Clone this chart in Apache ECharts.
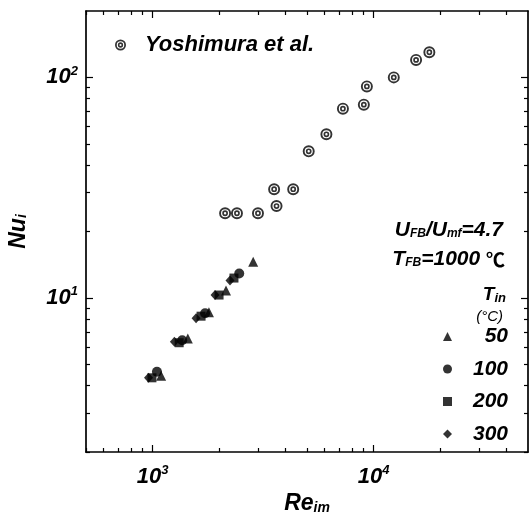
<!DOCTYPE html>
<html>
<head>
<meta charset="utf-8">
<script src="https://cdn.jsdelivr.net/npm/echarts@6/dist/echarts.min.js"></script>
<style>html,body{margin:0;padding:0;background:#fff}</style>
</head>
<body>
<div id="chart" style="width:531px;height:519px"></div>
<script>
  // Yoshimura et al. (double circles)
  const yoshiRe = [2130, 2410, 3000, 3550, 3640, 4330, 5090, 6120, 7270, 9040, 9330, 12350, 15580, 17890]
  const yoshiNu = [24.2, 24.2, 24.2, 31.1, 26.1, 31.1, 46.2, 55.2, 72.1, 75.2, 91.0, 100, 120, 130]
  // Tin = 50, 100, 200, 300 C
  const tin50Re = [1094, 1444, 1800, 2150, 2855]
  const tin50Nu = [4.43, 6.55, 8.6, 10.8, 14.6]
  const tin100Re = [1047, 1362, 1729, 2468]
  const tin100Nu = [4.62, 6.43, 8.52, 12.9]
  const tin200Re = [994, 1320, 1658, 2000, 2336]
  const tin200Nu = [4.34, 6.26, 8.26, 10.3, 12.3]
  const tin300Re = [959, 1256, 1574, 1918, 2242]
  const tin300Nu = [4.34, 6.32, 8.09, 10.3, 12.0]
  // ticks
  const xMajor = [1000, 10000]
  const xMinor = [500, 600, 700, 800, 900, 2000, 3000, 4000, 5000, 6000, 7000, 8000, 9000, 20000, 30000, 40000]
  const yMajor = [10, 100]
  const yMinor = [2, 3, 4, 5, 6, 7, 8, 9, 20, 30, 40, 50, 60, 70, 80, 90]

  const font = 'Liberation Sans'
  const doubleCircle = 'path://M0 -5A5 5 0 1 1 0 5A5 5 0 1 1 0 -5ZM0 -3.4A3.4 3.4 0 1 0 0 3.4A3.4 3.4 0 1 0 0 -3.4ZM0 -2.4A2.4 2.4 0 1 1 0 2.4A2.4 2.4 0 1 1 0 -2.4ZM0 -1A1 1 0 1 0 0 1A1 1 0 1 0 0 -1Z'

  function pairs(xs, ys) {
    return xs.map((x, i) => [x, ys[i]])
  }

  const bi = { fontWeight: 'bold', fontStyle: 'italic', fontFamily: font, color: '#000' }
  const powRich = {
    b: Object.assign({ fontSize: 22 }, bi),
    s: Object.assign({ fontSize: 13, padding: [0, 0, 12, 0] }, bi)
  }
  function powLabel(v) {
    return '{b|10}{s|' + Math.round(Math.log10(v)) + '}'
  }
  const nameRich = {
    a: Object.assign({ fontSize: 23 }, bi),
    s: Object.assign({ fontSize: 14, padding: [8, 0, 0, 0] }, bi)
  }
  const line = { show: true, lineStyle: { color: '#000', width: 1.7 } }

  function xAx(pos, ticks, len, main) {
    return {
      type: 'log', min: 500, max: 50000, position: pos,
      axisLine: main ? line : { show: false },
      axisTick: { show: true, inside: true, length: len, customValues: ticks, lineStyle: { color: '#000', width: 1.2 } },
      axisLabel: main && pos === 'bottom' ? { customValues: xMajor, formatter: powLabel, rich: powRich, margin: 12 } : { show: false },
      splitLine: { show: false },
      name: main && pos === 'bottom' ? '{a|Re}{s|im}' : '',
      nameLocation: 'middle', nameGap: 40,
      nameTextStyle: { rich: nameRich }
    }
  }
  function yAx(pos, ticks, len, main) {
    return {
      type: 'log', min: 2, max: 200, position: pos,
      axisLine: main ? line : { show: false },
      axisTick: { show: true, inside: true, length: len, customValues: ticks, lineStyle: { color: '#000', width: 1.2 } },
      axisLabel: main && pos === 'left' ? { customValues: yMajor, formatter: powLabel, rich: powRich, margin: 8 } : { show: false },
      splitLine: { show: false },
      name: main && pos === 'left' ? '{a|Nu}{s|i}' : '',
      nameLocation: 'middle', nameGap: 56,
      nameTextStyle: { rich: nameRich }
    }
  }

  const chart = echarts.init(document.getElementById('chart'))
  chart.setOption({
    backgroundColor: '#fff',
    animation: false,
    grid: { left: 86, top: 11, right: 3, bottom: 67, outerBoundsMode: 'none', containLabel: false },
    title: [{
      text: '{m|U}{s|FB}{m|/U}{s|mf}{m|=4.7}',
      right: 23, top: 215,
      textStyle: {
        rich: {
          m: Object.assign({ fontSize: 21 }, bi),
          s: Object.assign({ fontSize: 12, padding: [7, 0, 0, 0] }, bi)
        }
      }
    }, {
      text: '{m|T}{s|FB}{m|=1000 }{c|℃}',
      right: 21, top: 244,
      textStyle: {
        rich: {
          m: Object.assign({ fontSize: 21 }, bi),
          s: Object.assign({ fontSize: 12, padding: [7, 0, 0, 0] }, bi),
          c: { fontSize: 19, fontFamily: 'Noto Sans CJK SC', color: '#000' }
        }
      }
    }, {
      text: '{m|T}{s|in}',
      right: 20, top: 280,
      textStyle: {
        rich: {
          m: Object.assign({ fontSize: 19 }, bi),
          s: Object.assign({ fontSize: 13, padding: [7, 0, 0, 0] }, bi)
        }
      }
    }, {
      text: '(°C)',
      right: 23, top: 304,
      textStyle: { fontSize: 15, fontWeight: 'normal', fontStyle: 'italic', fontFamily: font, color: '#000' }
    }],
    legend: [{
      data: [{ name: 'Yoshimura et al.', icon: doubleCircle }],
      left: 110, top: 29, itemWidth: 11, itemHeight: 11,
      formatter: n => '{t|' + n + '}',
      textStyle: {
        rich: { t: Object.assign({ fontSize: 22, padding: [0, 0, 0, 14] }, bi) }
      }
    }, {
      data: [
        { name: '50', icon: 'triangle' },
        { name: '100', icon: 'circle' },
        { name: '200', icon: 'rect' },
        { name: '300', icon: 'diamond' }
      ],
      orient: 'vertical', left: 438, top: 321, itemWidth: 9, itemHeight: 9, itemGap: 11.5,
      formatter: n => '{v|' + n + '}',
      textStyle: {
        rich: { v: Object.assign({ width: 51, align: 'right', fontSize: 21, lineHeight: 21 }, bi) }
      }
    }],
    xAxis: [
      xAx('bottom', xMajor, 7, true),
      xAx('bottom', xMinor, 4, false),
      xAx('top', xMajor, 7, true),
      xAx('top', xMinor, 4, false)
    ],
    yAxis: [
      yAx('left', yMajor, 7, true),
      yAx('left', yMinor, 4, false),
      yAx('right', yMajor, 7, true),
      yAx('right', yMinor, 4, false)
    ],
    series: [{
      name: 'Yoshimura et al.', type: 'scatter', symbol: doubleCircle, symbolSize: 12,
      itemStyle: { color: '#000' }, data: pairs(yoshiRe, yoshiNu)
    }, {
      name: '50', type: 'scatter', symbol: 'triangle', symbolSize: 10,
      itemStyle: { color: '#000' }, data: pairs(tin50Re, tin50Nu)
    }, {
      name: '100', type: 'scatter', symbol: 'circle', symbolSize: 10,
      itemStyle: { color: '#000' }, data: pairs(tin100Re, tin100Nu)
    }, {
      name: '200', type: 'scatter', symbol: 'rect', symbolSize: 9,
      itemStyle: { color: '#000' }, data: pairs(tin200Re, tin200Nu)
    }, {
      name: '300', type: 'scatter', symbol: 'diamond', symbolSize: [9, 10],
      itemStyle: { color: '#000' }, data: pairs(tin300Re, tin300Nu)
    }]
  })
</script>
</body>
</html>
